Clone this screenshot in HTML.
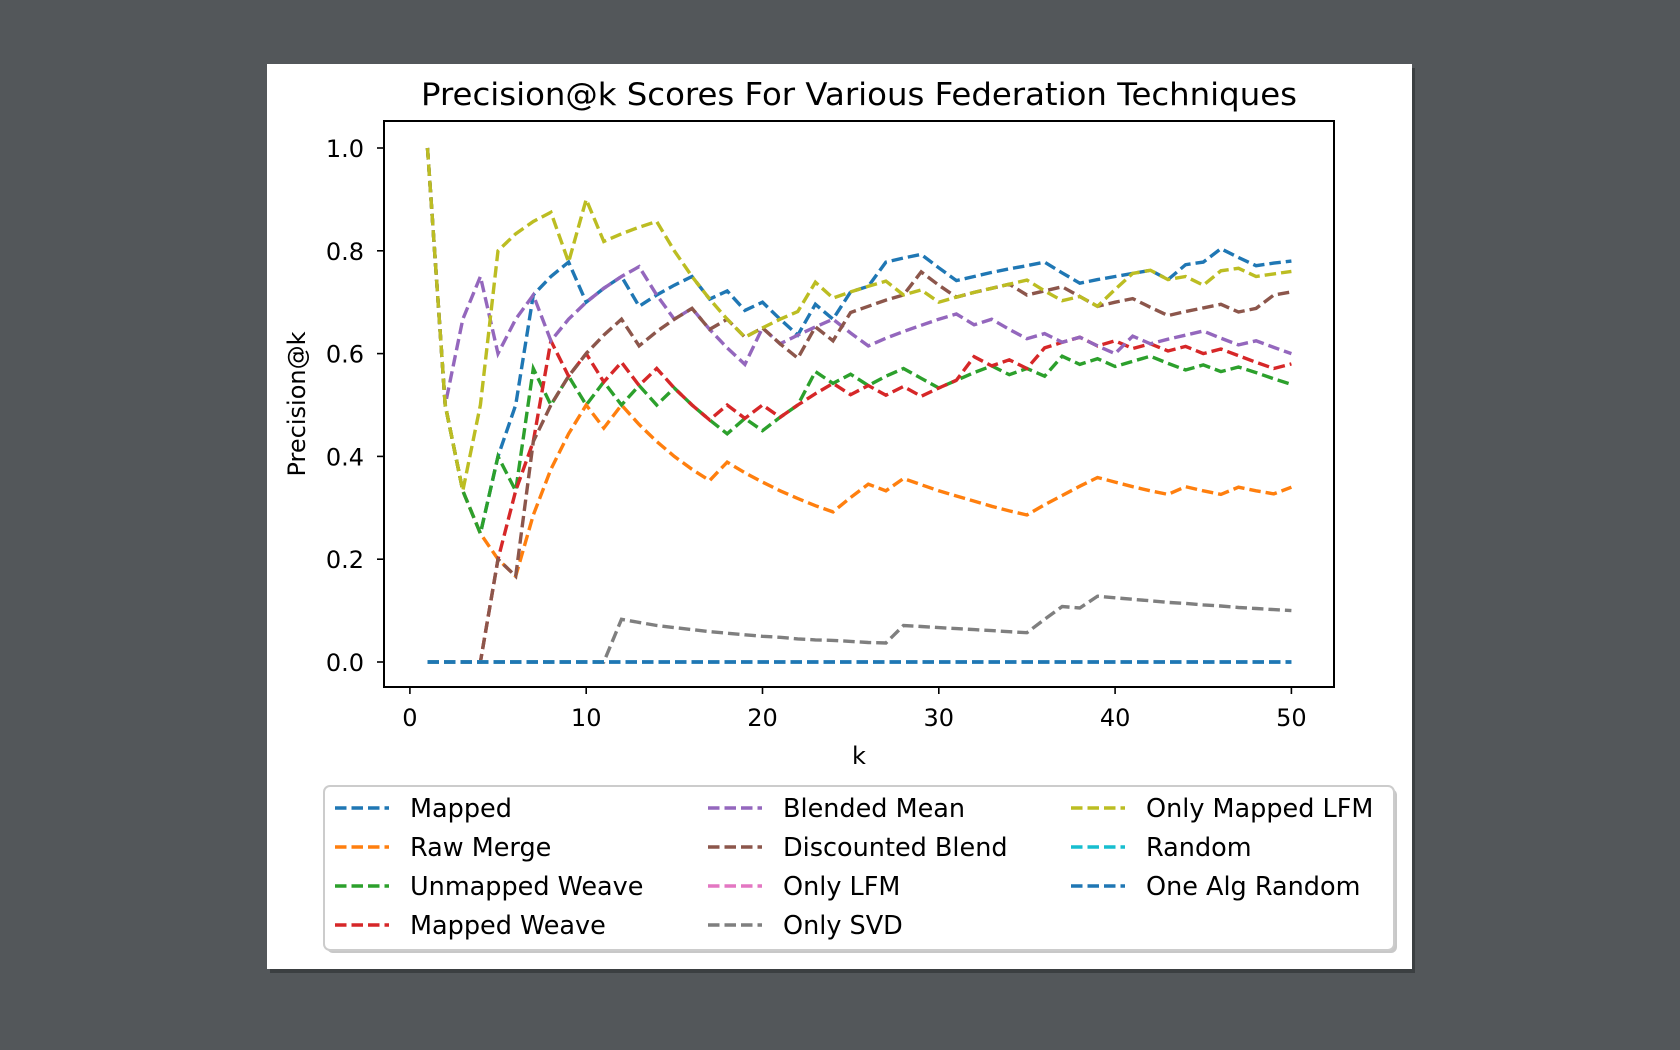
<!DOCTYPE html>
<html><head><meta charset="utf-8"><style>
html,body{margin:0;padding:0;background:#53575a;width:1680px;height:1050px;overflow:hidden}
svg{position:absolute;left:0;top:0}
text{font-family:"DejaVu Sans","Liberation Sans",sans-serif;fill:#000}
</style></head><body>
<svg id="chart" width="1680" height="1050">
<rect x="270" y="68" width="1145" height="905" fill="#2c2e30" opacity="0.6"/>
<rect x="267" y="64" width="1145" height="905" fill="#fff"/>
<text x="859" y="105" font-size="31" text-anchor="middle" textLength="876" lengthAdjust="spacingAndGlyphs">Precision@k Scores For Various Federation Techniques</text>
<g id="plot"></g>
<rect x="384" y="121" width="950" height="566" fill="none" stroke="#000" stroke-width="2"/>
<g id="axes"></g>
<text x="859" y="764" font-size="24" text-anchor="middle">k</text>
<text x="305" y="404" font-size="24" text-anchor="middle" transform="rotate(-90 305 404)">Precision@k</text>
<rect x="327" y="789" width="1070" height="164" rx="6" fill="#c8c8c8"/>
<rect x="324" y="786" width="1070" height="164" rx="6" fill="#fff" stroke="#ccc" stroke-width="2"/>
<g id="legend"></g>
</svg>
<script>
const ks = Array.from({length:50},(_,i)=>i+1);
const seriesNames = ["Mapped","Raw Merge","Unmapped Weave","Mapped Weave","Blended Mean","Discounted Blend","Only LFM","Only SVD","Only Mapped LFM","Random","One Alg Random"];
const seriesColors = ["#1f77b4","#ff7f0e","#2ca02c","#d62728","#9467bd","#8c564b","#e377c2","#7f7f7f","#bcbd22","#17becf","#1f77b4"];
const mapped = [1,0.5,0.333,0.25,0.4,0.5,0.714,0.75,0.778,0.7,0.727,0.75,0.692,0.714,0.733,0.75,0.706,0.722,0.684,0.7,0.667,0.636,0.696,0.667,0.72,0.731,0.778,0.786,0.793,0.767,0.742,0.75,0.758,0.765,0.771,0.778,0.757,0.737,0.744,0.75,0.756,0.762,0.744,0.773,0.778,0.804,0.787,0.771,0.776,0.78];
const rawMerge = [1,0.5,0.333,0.25,0.2,0.167,0.286,0.375,0.444,0.5,0.455,0.5,0.462,0.429,0.4,0.375,0.353,0.389,0.368,0.35,0.333,0.318,0.304,0.292,0.32,0.346,0.333,0.357,0.345,0.333,0.323,0.313,0.303,0.294,0.286,0.306,0.324,0.342,0.359,0.35,0.341,0.333,0.326,0.341,0.333,0.326,0.34,0.333,0.327,0.34];
const unmappedWeave = [1,0.5,0.333,0.25,0.4,0.333,0.571,0.5,0.556,0.5,0.545,0.5,0.538,0.5,0.533,0.5,0.471,0.444,0.474,0.45,0.476,0.5,0.565,0.542,0.56,0.538,0.556,0.571,0.552,0.533,0.548,0.563,0.576,0.559,0.571,0.556,0.595,0.579,0.59,0.575,0.585,0.595,0.581,0.568,0.578,0.565,0.574,0.563,0.551,0.54];
const mappedWeave = [0,0,0,0,0.2,0.333,0.429,0.625,0.556,0.6,0.545,0.583,0.538,0.571,0.533,0.5,0.471,0.5,0.474,0.5,0.476,0.5,0.522,0.542,0.52,0.538,0.519,0.536,0.517,0.533,0.548,0.594,0.576,0.588,0.571,0.611,0.622,0.632,0.615,0.625,0.61,0.619,0.605,0.614,0.6,0.609,0.596,0.583,0.571,0.58];
const blendedMean = [1,0.5,0.667,0.75,0.6,0.667,0.714,0.625,0.667,0.7,0.727,0.75,0.769,0.714,0.667,0.688,0.647,0.611,0.579,0.65,0.619,0.636,0.652,0.667,0.64,0.615,0.63,0.643,0.655,0.667,0.677,0.656,0.667,0.647,0.629,0.639,0.622,0.632,0.615,0.6,0.634,0.619,0.628,0.636,0.644,0.63,0.617,0.625,0.612,0.6];
const discountedBlend = [0,0,0,0,0.2,0.167,0.429,0.5,0.556,0.6,0.636,0.667,0.615,0.643,0.667,0.688,0.647,0.667,0.632,0.65,0.619,0.591,0.652,0.625,0.68,0.692,0.704,0.714,0.759,0.733,0.71,0.719,0.727,0.735,0.714,0.722,0.73,0.711,0.692,0.7,0.707,0.69,0.674,0.682,0.689,0.696,0.681,0.688,0.714,0.72];
const onlyLFM = [0,0,0,0,0,0,0,0,0,0,0,0,0,0,0,0,0,0,0,0,0,0,0,0,0,0,0,0,0,0,0,0,0,0,0,0,0,0,0,0,0,0,0,0,0,0,0,0,0,0];
const onlySVD = [0,0,0,0,0,0,0,0,0,0,0,0.083,0.077,0.071,0.067,0.063,0.059,0.056,0.053,0.05,0.048,0.045,0.043,0.042,0.04,0.038,0.037,0.071,0.069,0.067,0.065,0.063,0.061,0.059,0.057,0.083,0.108,0.105,0.128,0.125,0.122,0.119,0.116,0.114,0.111,0.109,0.106,0.104,0.102,0.1];
const onlyMappedLFM = [1,0.5,0.333,0.5,0.8,0.833,0.857,0.875,0.778,0.9,0.818,0.833,0.846,0.857,0.8,0.75,0.706,0.667,0.632,0.65,0.667,0.682,0.739,0.708,0.72,0.731,0.741,0.714,0.724,0.7,0.71,0.719,0.727,0.735,0.743,0.722,0.703,0.711,0.692,0.725,0.756,0.762,0.744,0.75,0.733,0.761,0.766,0.75,0.755,0.76];
const randomS = [0,0,0,0,0,0,0,0,0,0,0,0,0,0,0,0,0,0,0,0,0,0,0,0,0,0,0,0,0,0,0,0,0,0,0,0,0,0,0,0,0,0,0,0,0,0,0,0,0,0];
const oneAlgRandom = [0,0,0,0,0,0,0,0,0,0,0,0,0,0,0,0,0,0,0,0,0,0,0,0,0,0,0,0,0,0,0,0,0,0,0,0,0,0,0,0,0,0,0,0,0,0,0,0,0,0];
const xTicks = [0,10,20,30,40,50];
const yTicks = [0.0,0.2,0.4,0.6,0.8,1.0];

const NS="http://www.w3.org/2000/svg";
const xs = k => 409.9 + k*17.63;
const ys = v => 662 - v*514;
const allSeries=[mapped,rawMerge,unmappedWeave,mappedWeave,blendedMean,discountedBlend,onlyLFM,onlySVD,onlyMappedLFM,randomS,oneAlgRandom];
const plot=document.getElementById('plot');
allSeries.forEach((s,i)=>{
  const p=document.createElementNS(NS,'polyline');
  p.setAttribute('points',s.map((v,j)=>xs(ks[j]).toFixed(1)+','+ys(v).toFixed(1)).join(' '));
  p.setAttribute('fill','none');p.setAttribute('stroke',seriesColors[i]);
  p.setAttribute('stroke-width','3.4');p.setAttribute('stroke-dasharray','11.5,5');
  
  
  plot.appendChild(p);
});
const axes=document.getElementById('axes');
xTicks.forEach(t=>{
  const l=document.createElementNS(NS,'line');
  l.setAttribute('x1',xs(t));l.setAttribute('x2',xs(t));l.setAttribute('y1',687);l.setAttribute('y2',694);l.setAttribute('stroke','#000');l.setAttribute('stroke-width','1.6');
  
  
  axes.appendChild(l);
  const tx=document.createElementNS(NS,'text');
  tx.setAttribute('x',xs(t));tx.setAttribute('y',726);tx.setAttribute('font-size','24');tx.setAttribute('text-anchor','middle');tx.textContent=t;
  
  
  axes.appendChild(tx);
});
yTicks.forEach(t=>{
  const l=document.createElementNS(NS,'line');
  l.setAttribute('x1',377);l.setAttribute('x2',384);l.setAttribute('y1',ys(t));l.setAttribute('y2',ys(t));l.setAttribute('stroke','#000');l.setAttribute('stroke-width','1.6');
  
  
  axes.appendChild(l);
  const tx=document.createElementNS(NS,'text');
  tx.setAttribute('x',364);tx.setAttribute('y',ys(t)+9);tx.setAttribute('font-size','24');tx.setAttribute('text-anchor','end');tx.textContent=t.toFixed(1);
  
  
  axes.appendChild(tx);
});
const lg=document.getElementById('legend');
const colX=[335,708,1071], rowY=[808,847,886,925];
seriesNames.forEach((n,i)=>{
  const c=i<4?0:(i<8?1:2), r=i<4?i:(i<8?i-4:i-8);
  const l=document.createElementNS(NS,'line');
  l.setAttribute('x1',colX[c]);l.setAttribute('x2',colX[c]+54);l.setAttribute('y1',rowY[r]);l.setAttribute('y2',rowY[r]);
  l.setAttribute('stroke',seriesColors[i]);l.setAttribute('stroke-width','3.4');l.setAttribute('stroke-dasharray','11.5,5');
  
  
  lg.appendChild(l);
  const tx=document.createElementNS(NS,'text');
  tx.setAttribute('x',colX[c]+75);tx.setAttribute('y',rowY[r]+9);tx.setAttribute('font-size','25.5');tx.textContent=n;
  
  
  lg.appendChild(tx);
});
</script>
</body></html>
